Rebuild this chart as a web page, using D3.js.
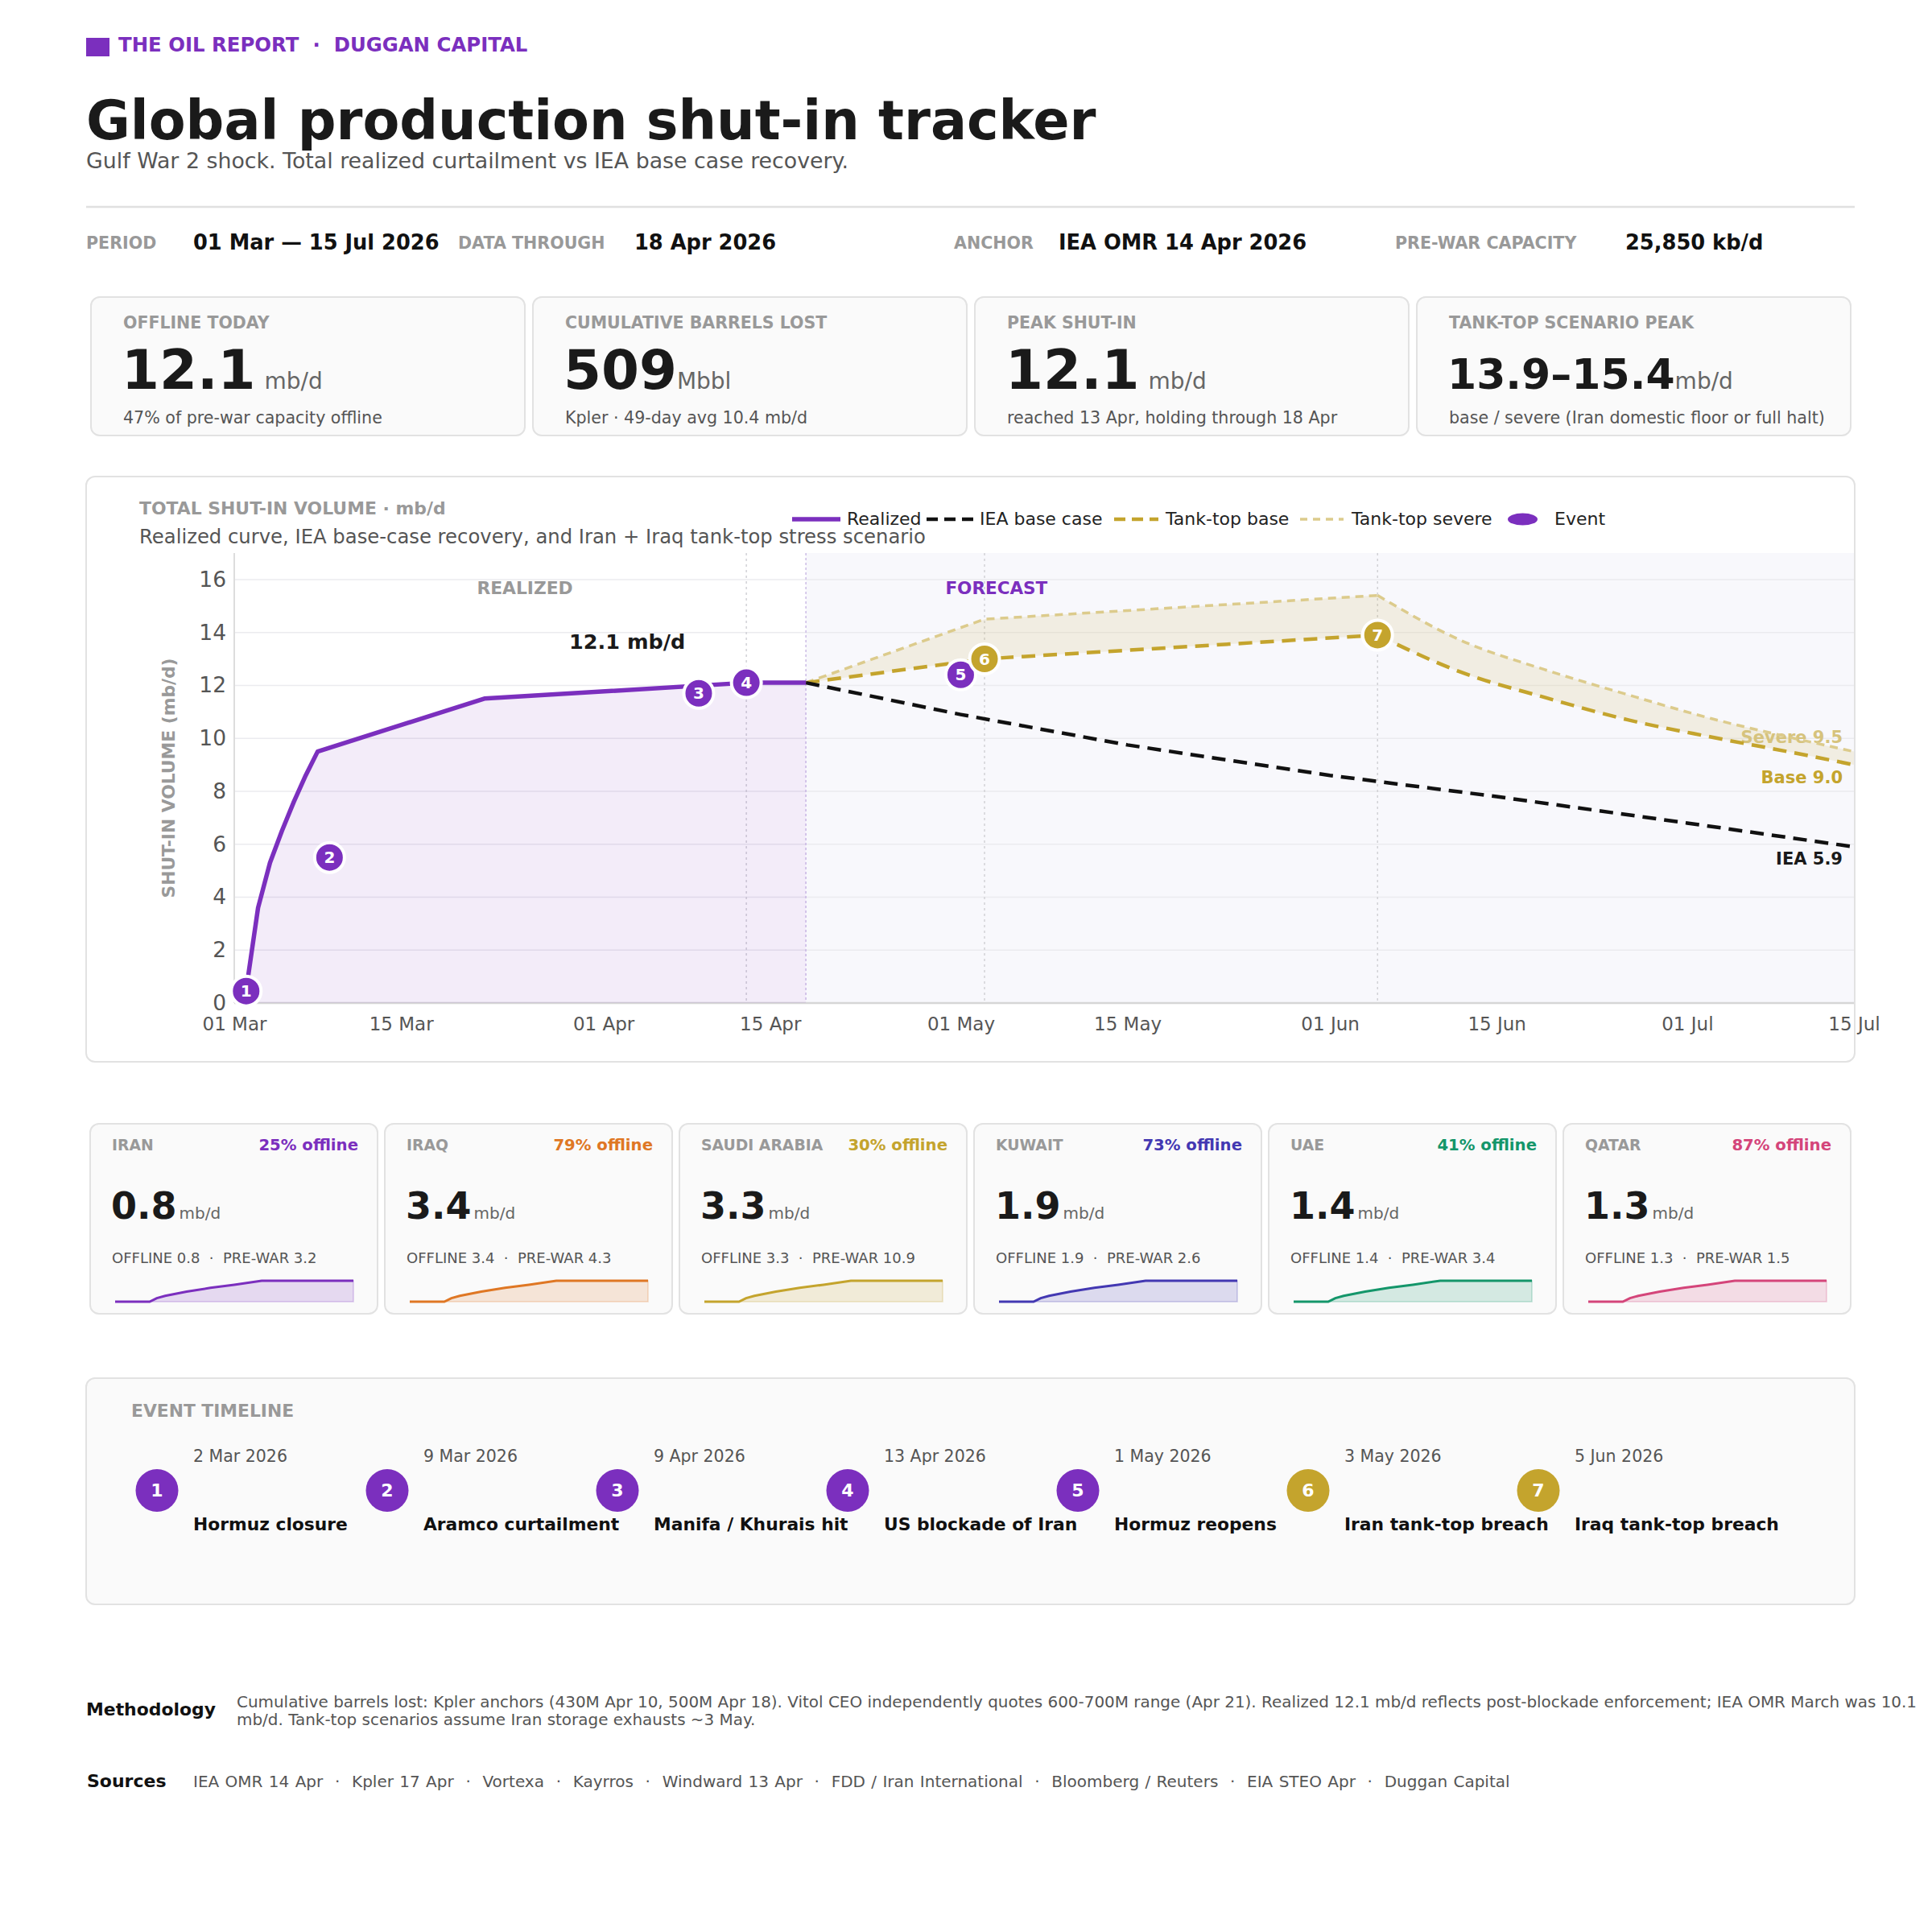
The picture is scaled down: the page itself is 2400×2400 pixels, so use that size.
<!DOCTYPE html>
<html lang="en">
<head>
<meta charset="utf-8">
<title>Global production shut-in tracker</title>
<script src="https://cdn.jsdelivr.net/npm/d3@7/dist/d3.min.js"></script>
<style>
    body { margin: 0; background: #fff; }
    #page { width: 2400px; height: 2400px; }
    svg { font-family: "DejaVu Sans", sans-serif; display: block; }
    text { white-space: pre; }
</style>
</head>
<body>
<div id="page"></div>
<script>
    // ---- data ----
    var brandText = 'THE OIL REPORT  \u00b7  DUGGAN CAPITAL';
    var titleText = 'Global production shut-in tracker';
    var subtitleText = 'Gulf War 2 shock. Total realized curtailment vs IEA base case recovery.';

    var metaLabels = ['PERIOD', 'DATA THROUGH', 'ANCHOR', 'PRE-WAR CAPACITY'];
    var metaValues = ['01 Mar \u2014 15 Jul 2026', '18 Apr 2026', 'IEA OMR 14 Apr 2026', '25,850 kb/d'];

    var kpiLabels = ['OFFLINE TODAY', 'CUMULATIVE BARRELS LOST', 'PEAK SHUT-IN', 'TANK-TOP SCENARIO PEAK'];
    var kpiValues = ['12.1', '509', '12.1', '13.9\u201315.4'];
    var kpiUnits = [' mb/d', 'Mbbl', ' mb/d', 'mb/d'];
    var kpiNotes = ['47% of pre-war capacity offline', 'Kpler \u00b7 49-day avg 10.4 mb/d',
        'reached 13 Apr, holding through 18 Apr', 'base / severe (Iran domestic floor or full halt)'];

    var realizedDates = ['2026-03-02', '2026-03-03', '2026-03-04', '2026-03-05', '2026-03-06',
        '2026-03-07', '2026-03-08', '2026-03-22', '2026-04-13', '2026-04-18'];
    var realizedValues = [0.5, 3.6, 5.3, 6.5, 7.6, 8.6, 9.5, 11.5, 12.1, 12.1];

    var ieaDates = ['2026-04-18', '2026-05-01', '2026-05-15', '2026-06-01', '2026-06-15', '2026-07-01', '2026-07-15'];
    var ieaValues = [12.1, 10.9, 9.75, 8.6, 7.8, 6.8, 5.9];

    var tankDates = ['2026-04-18', '2026-05-03', '2026-06-05', '2026-06-12', '2026-06-19',
        '2026-06-26', '2026-07-03', '2026-07-10', '2026-07-15'];
    var tankBaseValues = [12.1, 13.0, 13.9, 12.5, 11.55, 10.7, 10.05, 9.45, 9.0];
    var tankSevereValues = [12.1, 14.5, 15.4, 13.7, 12.6, 11.65, 10.75, 10.0, 9.5];
    var tankPeakDate = '2026-06-05';

    var eventDates = ['2026-03-02', '2026-03-09', '2026-04-09', '2026-04-13', '2026-05-01', '2026-05-03', '2026-06-05'];
    var eventValues = [0.45, 5.5, 11.7, 12.1, 12.4, 13.0, 13.9];
    var eventKinds = ['realized', 'realized', 'realized', 'realized', 'realized', 'tank', 'tank'];
    var eventDateLabels = ['2 Mar 2026', '9 Mar 2026', '9 Apr 2026', '13 Apr 2026', '1 May 2026', '3 May 2026', '5 Jun 2026'];
    var eventTitles = ['Hormuz closure', 'Aramco curtailment', 'Manifa / Khurais hit', 'US blockade of Iran',
        'Hormuz reopens', 'Iran tank-top breach', 'Iraq tank-top breach'];

    var guideDates = ['2026-04-13', '2026-05-03', '2026-06-05'];
    var todayDate = '2026-04-18';
    var xTickDates = ['2026-03-01', '2026-03-15', '2026-04-01', '2026-04-15', '2026-05-01',
        '2026-05-15', '2026-06-01', '2026-06-15', '2026-07-01', '2026-07-15'];
    var yTicks = [0, 2, 4, 6, 8, 10, 12, 14, 16];

    var countryNames = ['IRAN', 'IRAQ', 'SAUDI ARABIA', 'KUWAIT', 'UAE', 'QATAR'];
    var countryOffline = [0.8, 3.4, 3.3, 1.9, 1.4, 1.3];
    var countryPrewar = [3.2, 4.3, 10.9, 2.6, 3.4, 1.5];
    var countryPct = [25, 79, 30, 73, 41, 87];
    var countryColors = ['#7b2fbe', '#df7724', '#c4a42d', '#4338b2', '#14966a', '#d4457a'];

    // normalised country shut-in path used by the small sparklines
    var sparkT = [0, 0.145, 0.175, 0.21, 0.3, 0.4, 0.5, 0.615, 1];
    var sparkV = [0, 0, 0.17, 0.28, 0.48, 0.66, 0.81, 1, 1];

    var methodologyText = 'Cumulative barrels lost: Kpler anchors (430M Apr 10, 500M Apr 18). Vitol CEO independently quotes 600-700M range (Apr 21). Realized 12.1 mb/d reflects post-blockade enforcement; IEA OMR March was 10.1 mb/d. Tank-top scenarios assume Iran storage exhausts ~3 May.';
    var sourceList = ['IEA OMR 14 Apr', 'Kpler 17 Apr', 'Vortexa', 'Kayrros', 'Windward 13 Apr',
        'FDD / Iran International', 'Bloomberg / Reuters', 'EIA STEO Apr', 'Duggan Capital'];

    // ---- style ----
    var PURPLE = '#7b2fbe', GOLD = '#c4a42d', SEVERE = '#dccb8c';
    var INK = '#1a1a1a', MUTED = '#999999', BODY = '#555555';
    var CARD_FILL = '#fafafa', CARD_LINE = '#e2e2e2';

    var parse = d3.timeParse('%Y-%m-%d');

    var svg = d3.select('#page').append('svg')
        .attr('width', 2400)
        .attr('height', 2400);

    function label(g, x, y, s, size, weight, fill, anchor) {
        return g.append('text')
            .attr('x', x)
            .attr('y', y)
            .attr('font-size', size)
            .attr('font-weight', weight)
            .attr('fill', fill)
            .attr('text-anchor', anchor || 'start')
            .text(s);
    }

    function card(x, y, w, h, fill) {
        svg.append('rect')
            .attr('x', x).attr('y', y)
            .attr('width', w).attr('height', h)
            .attr('rx', 11)
            .attr('fill', fill)
            .attr('stroke', CARD_LINE)
            .attr('stroke-width', 2);
    }

    // ---- header ----
    svg.append('rect').attr('x', 107).attr('y', 47).attr('width', 29).attr('height', 23).attr('fill', PURPLE);
    label(svg, 147, 64, brandText, 24.4, 'bold', PURPLE);
    label(svg, 107, 173, titleText, 66.8, 'bold', INK);
    label(svg, 107, 209, subtitleText, 26.8, 'normal', BODY);
    svg.append('line').attr('x1', 107).attr('x2', 2304).attr('y1', 257).attr('y2', 257)
        .attr('stroke', '#e0e0e0').attr('stroke-width', 2.5);

    var metaLabelX = [107, 569, 1185, 1733];
    var metaValueX = [240, 788, 1315, 2019];
    metaLabels.forEach(function (d, i) {
        label(svg, metaLabelX[i], 309, d, 20.6, 'bold', MUTED);
        label(svg, metaValueX[i], 310, metaValues[i], 25.7, 'bold', '#111');
    });

    // ---- KPI cards ----
    kpiLabels.forEach(function (d, i) {
        var cx = 113 + i * 549;
        card(cx, 369, 539, 172, CARD_FILL);
        label(svg, cx + 40, 408, d, 20.5, 'bold', MUTED);
        var t = svg.append('text').attr('x', cx + 38).attr('y', 483);
        t.append('tspan').attr('font-size', i === 3 ? 52 : 67.5).attr('font-weight', 'bold')
            .attr('fill', INK).text(kpiValues[i]);
        t.append('tspan').attr('font-size', 28).attr('fill', '#666')
            .attr('dx', kpiUnits[i].charAt(0) === ' ' ? 2 : 0)
            .text(kpiUnits[i]);
        label(svg, cx + 40, 526, kpiNotes[i], 20.6, 'normal', BODY);
    });

    // ---- main chart ----
    card(107, 592, 2197, 727, '#ffffff');
    label(svg, 173, 639, 'TOTAL SHUT-IN VOLUME \u00b7 mb/d', 21.9, 'bold', MUTED);
    label(svg, 173, 675, 'Realized curve, IEA base-case recovery, and Iran + Iraq tank-top stress scenario', 24.3, 'normal', BODY);

    var x = d3.scaleTime()
        .domain([parse('2026-03-01'), parse('2026-07-15')])
        .range([291, 2303]);
    var y = d3.scaleLinear()
        .domain([0, 17])
        .range([1246, 687]);

    var plot = svg.append('g');

    plot.append('rect')
        .attr('x', x(parse(todayDate)))
        .attr('y', y(17))
        .attr('width', x.range()[1] - x(parse(todayDate)))
        .attr('height', y(0) - y(17))
        .attr('fill', '#f8f8fc');

    plot.selectAll('.grid')
        .data(yTicks.slice(1))
        .enter().append('line')
        .attr('class', 'grid')
        .attr('x1', x.range()[0]).attr('x2', x.range()[1])
        .attr('y1', function (d) { return y(d); })
        .attr('y2', function (d) { return y(d); })
        .attr('stroke', '#ebebef')
        .attr('stroke-width', 1.5);

    plot.selectAll('.guide')
        .data(guideDates)
        .enter().append('line')
        .attr('class', 'guide')
        .attr('x1', function (d) { return x(parse(d)); })
        .attr('x2', function (d) { return x(parse(d)); })
        .attr('y1', y(17)).attr('y2', y(0))
        .attr('stroke', '#d2d2d6')
        .attr('stroke-width', 1.5)
        .attr('stroke-dasharray', '3 4');

    plot.append('line')
        .attr('x1', x(parse(todayDate))).attr('x2', x(parse(todayDate)))
        .attr('y1', y(17)).attr('y2', y(0))
        .attr('stroke', '#cdbde6')
        .attr('stroke-width', 1.5)
        .attr('stroke-dasharray', '3 3');

    // axes
    plot.append('line')
        .attr('x1', x.range()[0]).attr('x2', x.range()[0])
        .attr('y1', y(17)).attr('y2', y(0))
        .attr('stroke', '#dddddd').attr('stroke-width', 2);

    var xAxis = plot.append('g')
        .attr('transform', 'translate(0,' + y(0) + ')')
        .call(d3.axisBottom(x)
            .tickValues(xTickDates.map(parse))
            .tickFormat(d3.timeFormat('%d %b'))
            .tickSize(0)
            .tickPadding(18));
    xAxis.select('.domain').remove();
    xAxis.selectAll('text').attr('font-size', 23).attr('fill', BODY).attr('font-family', 'DejaVu Sans');

    var yAxis = plot.append('g')
        .attr('transform', 'translate(' + x.range()[0] + ',0)')
        .call(d3.axisLeft(y).tickValues(yTicks).tickSize(0).tickPadding(10));
    yAxis.select('.domain').remove();
    yAxis.selectAll('text').attr('font-size', 26.5).attr('fill', BODY).attr('font-family', 'DejaVu Sans');

    plot.append('line')
        .attr('x1', x.range()[0]).attr('x2', x.range()[1])
        .attr('y1', y(0)).attr('y2', y(0))
        .attr('stroke', '#d6d6d6').attr('stroke-width', 2.5);

    plot.append('text')
        .attr('transform', 'translate(211,' + ((y(0) + y(17)) / 2) + ') rotate(-90)')
        .attr('text-anchor', 'middle')
        .attr('dominant-baseline', 'middle')
        .attr('font-size', 21.8)
        .attr('font-weight', 'bold')
        .attr('fill', MUTED)
        .text('SHUT-IN VOLUME (mb/d)');

    // series
    var realized = realizedDates.map(function (d, i) { return {date: parse(d), v: realizedValues[i]}; });
    var iea = ieaDates.map(function (d, i) { return {date: parse(d), v: ieaValues[i]}; });
    var tank = tankDates.map(function (d, i) {
        return {date: parse(d), base: tankBaseValues[i], severe: tankSevereValues[i]};
    });
    var peak = parse(tankPeakDate);
    // ramp up to the tank-top peak is straight, the drawdown after it is a smooth decay
    var tankRamp = tank.filter(function (d) { return d.date <= peak; });
    var tankDecay = tank.filter(function (d) { return d.date >= peak; });

    plot.append('path')
        .datum(realized)
        .attr('d', d3.area()
            .x(function (d) { return x(d.date); })
            .y0(y(0))
            .y1(function (d) { return y(d.v); }))
        .attr('fill', PURPLE)
        .attr('fill-opacity', 0.09);

    [[tankRamp, d3.curveLinear], [tankDecay, d3.curveMonotoneX]].forEach(function (part) {
        plot.append('path')
            .datum(part[0])
            .attr('d', d3.area()
                .curve(part[1])
                .x(function (d) { return x(d.date); })
                .y0(function (d) { return y(d.base); })
                .y1(function (d) { return y(d.severe); }))
            .attr('fill', GOLD)
            .attr('fill-opacity', 0.12);
    });

    // annotations
    var mid = new Date((parse('2026-03-01').getTime() + parse(todayDate).getTime()) / 2);
    label(plot, x(mid) + 6, 738, 'REALIZED', 21.8, 'bold', MUTED, 'middle');
    label(plot, x(parse('2026-05-04')), 738, 'FORECAST', 21.5, 'bold', PURPLE, 'middle');
    label(plot, x(parse('2026-04-03')), y(12.1) - 42, '12.1 mb/d', 25.5, 'bold', INK, 'middle');

    var endX = x.range()[1] - 14;
    var last = tank[tank.length - 1];
    label(plot, endX, y(last.severe) - 11, 'Severe ' + d3.format('.1f')(last.severe), 21, 'bold', '#d6c37d', 'end');
    label(plot, endX, y(last.base) + 23, 'Base ' + d3.format('.1f')(last.base), 21, 'bold', GOLD, 'end');
    label(plot, endX, y(iea[iea.length - 1].v) + 22, 'IEA ' + d3.format('.1f')(iea[iea.length - 1].v), 21, 'bold', INK, 'end');

    function drawTank(key, color, width, dash) {
        [[tankRamp, d3.curveLinear], [tankDecay, d3.curveMonotoneX]].forEach(function (part) {
            plot.append('path')
                .datum(part[0])
                .attr('d', d3.line()
                    .curve(part[1])
                    .x(function (d) { return x(d.date); })
                    .y(function (d) { return y(d[key]); }))
                .attr('fill', 'none')
                .attr('stroke', color)
                .attr('stroke-width', width)
                .attr('stroke-dasharray', dash);
        });
    }
    drawTank('severe', SEVERE, 3.5, '10 7');
    drawTank('base', GOLD, 4.5, '17 10');

    var line = d3.line()
        .x(function (d) { return x(d.date); })
        .y(function (d) { return y(d.v); });

    plot.append('path')
        .datum(iea)
        .attr('d', line)
        .attr('fill', 'none')
        .attr('stroke', '#111111')
        .attr('stroke-width', 4.5)
        .attr('stroke-dasharray', '17 10');

    plot.append('path')
        .datum(realized)
        .attr('d', line)
        .attr('fill', 'none')
        .attr('stroke', PURPLE)
        .attr('stroke-width', 5.5)
        .attr('stroke-linejoin', 'round');

    // event markers
    var ev = plot.selectAll('.event')
        .data(eventDates)
        .enter().append('g')
        .attr('class', 'event')
        .attr('transform', function (d, i) {
            return 'translate(' + x(parse(d)) + ',' + y(eventValues[i]) + ')';
        });
    ev.append('circle')
        .attr('r', 18.5)
        .attr('fill', function (d, i) { return eventKinds[i] === 'tank' ? GOLD : PURPLE; })
        .attr('stroke', '#fff')
        .attr('stroke-width', 4);
    ev.append('text')
        .attr('text-anchor', 'middle')
        .attr('dominant-baseline', 'central')
        .attr('font-size', 20)
        .attr('font-weight', 'bold')
        .attr('fill', '#fff')
        .text(function (d, i) { return i + 1; });

    // legend: symbol start, symbol length and text start for each entry
    var legendItems = [
        {name: 'Realized', color: PURPLE, width: 5.5, dash: null, sx: 984, len: 60, tx: 1052},
        {name: 'IEA base case', color: '#111111', width: 4.5, dash: '14 8', sx: 1151, len: 58, tx: 1217},
        {name: 'Tank-top base', color: GOLD, width: 4.5, dash: '14 8', sx: 1384, len: 55, tx: 1448},
        {name: 'Tank-top severe', color: SEVERE, width: 3.5, dash: '9 7', sx: 1615, len: 54, tx: 1679},
        {name: 'Event', color: PURPLE, marker: true, sx: 1873, len: 37, tx: 1931}
    ];
    legendItems.forEach(function (d) {
        var g = svg.append('g');
        if (d.marker) {
            g.append('ellipse').attr('cx', d.sx + d.len / 2).attr('cy', 645)
                .attr('rx', d.len / 2).attr('ry', 7.5).attr('fill', d.color);
        } else {
            g.append('line').attr('x1', d.sx).attr('x2', d.sx + d.len).attr('y1', 645).attr('y2', 645)
                .attr('stroke', d.color).attr('stroke-width', d.width)
                .attr('stroke-dasharray', d.dash);
        }
        label(g, d.tx, 652, d.name, 22, 'normal', '#222');
    });

    // ---- country cards ----
    countryNames.forEach(function (d, i) {
        var cx = 112 + i * 366;
        var col = countryColors[i];
        card(cx, 1396, 357, 236, CARD_FILL);
        label(svg, cx + 27, 1429, d, 18.8, 'bold', MUTED);
        label(svg, cx + 357 - 24, 1429, countryPct[i] + '% offline', 19.7, 'bold', col, 'end');
        var t = svg.append('text').attr('x', cx + 26).attr('y', 1514);
        t.append('tspan').attr('font-size', 46).attr('font-weight', 'bold').attr('fill', INK)
            .text(d3.format('.1f')(countryOffline[i]));
        t.append('tspan').attr('font-size', 20).attr('fill', '#666').attr('dx', 3).text('mb/d');
        label(svg, cx + 27, 1569, 'OFFLINE ' + d3.format('.1f')(countryOffline[i]) + '  \u00b7  PRE-WAR ' +
            d3.format('.1f')(countryPrewar[i]), 18, 'normal', BODY);

        var sx = d3.scaleLinear().domain([0, 1]).range([cx + 31, cx + 327]);
        var sy = d3.scaleLinear().domain([0, 1]).range([1617, 1591]);
        var pts = sparkT.map(function (t, j) { return [t, sparkV[j]]; });
        svg.append('path')
            .datum(pts)
            .attr('d', d3.area().x(function (p) { return sx(p[0]); }).y0(sy(0)).y1(function (p) { return sy(p[1]); }))
            .attr('fill', col).attr('fill-opacity', 0.16)
            .attr('stroke', col).attr('stroke-opacity', 0.25).attr('stroke-width', 1.5);
        svg.append('path')
            .datum(pts)
            .attr('d', d3.line().x(function (p) { return sx(p[0]); }).y(function (p) { return sy(p[1]); }))
            .attr('fill', 'none').attr('stroke', col).attr('stroke-width', 3);
    });

    // ---- event timeline ----
    card(107, 1712, 2197, 281, CARD_FILL);
    label(svg, 163, 1760, 'EVENT TIMELINE', 21.8, 'bold', MUTED);
    eventTitles.forEach(function (d, i) {
        var cx = 195 + i * 286;
        var col = eventKinds[i] === 'tank' ? GOLD : PURPLE;
        svg.append('circle').attr('cx', cx).attr('cy', 1851.5).attr('r', 26.5).attr('fill', col);
        svg.append('text')
            .attr('x', cx).attr('y', 1851.5)
            .attr('text-anchor', 'middle')
            .attr('dominant-baseline', 'central')
            .attr('font-size', 22).attr('font-weight', 'bold').attr('fill', '#fff')
            .text(i + 1);
        label(svg, cx + 45, 1816, eventDateLabels[i], 20.5, 'normal', BODY);
        label(svg, cx + 45, 1901, d, 21.8, 'bold', '#111');
    });

    // ---- footer ----
    label(svg, 107, 2131, 'Methodology', 21.9, 'bold', '#111');
    var meth = svg.append('text').attr('font-size', 19.95).attr('fill', BODY);
    var words = methodologyText.split(' ');
    var lineNo = 0;
    var tsp = meth.append('tspan').attr('x', 294).attr('y', 2121);
    var cur = [];
    words.forEach(function (w) {
        cur.push(w);
        tsp.text(cur.join(' '));
        if (tsp.node().getComputedTextLength() > 2400 - 294 && cur.length > 1) {
            cur.pop();
            tsp.text(cur.join(' '));
            cur = [w];
            lineNo += 1;
            tsp = meth.append('tspan').attr('x', 294).attr('y', 2121 + lineNo * 22).text(w);
        }
    });

    label(svg, 108, 2220, 'Sources', 22, 'bold', '#111');
    label(svg, 240, 2220, sourceList.join('  \u00b7  '), 20, 'normal', BODY)
        .attr('word-spacing', 1);
</script>
</body>
</html>
